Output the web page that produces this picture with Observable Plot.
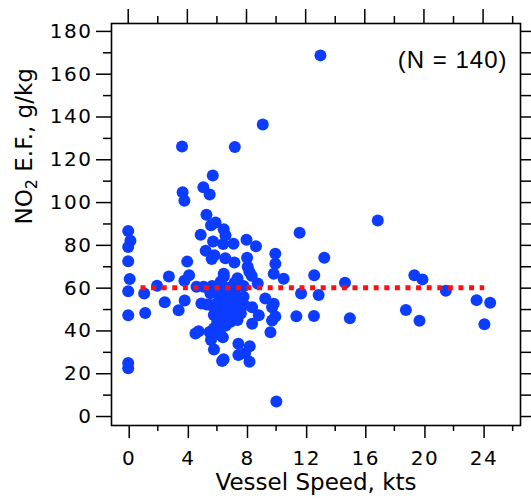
<!DOCTYPE html>
<html>
<head>
<meta charset="utf-8">
<script src="https://cdn.jsdelivr.net/npm/d3@7"></script>
<script src="https://cdn.jsdelivr.net/npm/@observablehq/plot@0.6"></script>
<style>
  html, body { margin: 0; padding: 0; background: #fff; }
  svg g[aria-label="x-axis tick label"], svg g[aria-label="y-axis tick label"] { letter-spacing: 1.5px; }
</style>
</head>
<body>
<div id="chart"></div>
<script>
// Vessel speed (kts) and NO2 emission factor (g/kg)
const speed = [
  0.00, 0.15, 0.00, 0.00, 0.10, 0.00, 0.00, 0.00, 0.00,
  1.08, 1.15, 1.95, 2.75, 2.47, 3.41, 3.64, 3.68, 3.80, 3.99, 4.12, 3.80, 3.82,
  4.55, 4.76, 4.90, 5.08, 5.51, 5.72, 5.29, 4.62, 4.95,
  5.60, 5.90, 5.74, 5.24, 5.65, 5.83, 6.46, 6.58, 7.12, 6.42, 6.57, 7.18, 6.46,
  8.00, 8.64, 8.04, 8.08, 8.19, 8.35, 8.76, 9.27, 8.38, 8.83, 8.38, 9.73, 9.73, 9.62,
  9.95, 9.95, 9.84, 10.51, 9.84, 9.95, 10.02,
  11.59, 13.26, 12.58, 11.69, 12.88, 11.37, 12.56, 13.00, 9.10, 7.21, 16.88, 14.66, 14.99,
  19.35, 19.90, 21.48, 18.78, 19.70, 23.56, 24.48, 24.09,
  5.50, 5.60, 5.80, 6.10, 6.40, 6.45, 6.35, 7.45, 8.22, 7.45, 7.90, 8.20,
  5.10, 5.67, 6.02, 6.47, 6.93, 7.39, 7.80,
  5.30, 5.56, 6.02, 6.47, 6.93, 7.39, 7.80,
  6.47, 6.93, 7.39, 7.85,
  5.79, 6.25, 6.70, 7.16, 7.62,
  6.02, 6.47, 6.93, 7.39,
  5.79, 6.25,
  6.13, 6.59, 7.16, 5.56,
  6.47, 7.39, 6.25,
  6.20, 6.80, 7.00, 6.00, 7.20, 6.60
];
const noxEF = [
  86.7, 82.2, 79.2, 72.6, 64.3, 58.6, 47.3, 25.0, 22.6,
  57.5, 48.4, 61.1, 65.4, 53.4, 49.7, 126.2, 104.8, 100.9, 72.4, 66.0, 63.5, 54.2,
  38.8, 39.9, 85.0, 107.2, 103.8, 112.6, 94.3, 60.6, 52.8,
  89.4, 90.7, 81.8, 77.5, 73.6, 75.4, 87.5, 84.7, 80.8, 80.6, 74.0, 72.0, 66.7,
  82.6, 79.6, 74.2, 70.0, 67.7, 65.8, 62.2, 55.2, 51.1, 47.3, 43.4, 51.1, 44.9, 39.4,
  76.1, 71.4, 66.7, 64.4, 52.7, 46.8, 7.0,
  85.9, 74.2, 66.0, 57.5, 56.8, 46.9, 47.0, 168.8, 136.5, 126.0, 91.6, 62.5, 45.9,
  66.0, 64.1, 58.8, 49.8, 44.8, 54.4, 53.2, 43.1,
  39.5, 35.8, 31.3, 38.5, 37.0, 26.8, 26.0, 34.0, 32.8, 28.8, 29.6, 25.6,
  60.7, 61.0, 60.7, 60.7, 60.4, 60.7, 61.0,
  52.4, 52.1, 52.9, 53.7, 54.4, 55.2, 56.0,
  49.8, 50.5, 51.3, 52.1,
  47.4, 48.2, 47.4, 47.4, 48.2,
  44.3, 45.1, 44.3, 45.1,
  41.2, 41.2,
  57.6, 56.8, 57.6, 57.6,
  65.4, 64.6, 63.0,
  55.0, 58.5, 52.0, 49.0, 62.5, 42.5
];
// mean line (dotted red)
const meanX = [0.83, 24.07];
const meanY = [60.2, 60.2];

// ticks
const xMajor = [0, 4, 8, 12, 16, 20, 24];
const xMinor = [2, 6, 10, 14, 18, 22, 26];
const yMajor = [0, 20, 40, 60, 80, 100, 120, 140, 160, 180];
const yMinor = [10, 30, 50, 70, 90, 110, 130, 150, 170];
const yRight = [0, 10, 20, 30, 40, 50, 60, 70, 80, 90, 100, 110, 120, 130, 140, 150, 160, 170, 180];

const xTitle = "Vessel Speed, kts";
const yTitle = "NO₂ E.F., g/kg";
const nLabel = "(N = 140)";

const points = speed.map((x, i) => ({x, y: noxEF[i]}));
const meanLine = meanX.map((x, i) => ({x, y: meanY[i]}));
const blank = () => "";
const font = "DejaVu Sans";

const chart = Plot.plot({
  width: 531,
  height: 501,
  marginLeft: 111,
  marginRight: 11,
  marginTop: 23,
  marginBottom: 76,
  x: {domain: [-1.13, 26.53]},
  y: {domain: [-4.2, 183.7]},
  style: {fontFamily: font, fontSize: "20px", color: "black", background: "white"},
  marks: [
    Plot.axisY({ticks: yMajor, anchor: "left", tickSize: 15, tickPadding: 4, strokeWidth: 1.5, fontSize: 20, label: null}),
    Plot.axisY({ticks: yMinor, anchor: "left", tickSize: 8, strokeWidth: 1.5, tickFormat: blank, label: null}),
    Plot.axisY({ticks: yRight, anchor: "right", tickSize: 11, strokeWidth: 1.5, tickFormat: blank, label: null}),
    Plot.axisX({ticks: xMajor, anchor: "bottom", tickSize: 13, tickPadding: 12, dx: 1, strokeWidth: 1.5, fontSize: 20, label: null}),
    Plot.axisX({ticks: xMinor, anchor: "bottom", tickSize: 6, strokeWidth: 1.5, tickFormat: blank, label: null}),
    Plot.axisX({ticks: xMajor, anchor: "top", tickSize: 15, strokeWidth: 1.5, tickFormat: blank, label: null}),
    Plot.axisX({ticks: xMinor, anchor: "top", tickSize: 8, strokeWidth: 1.5, tickFormat: blank, label: null}),
    Plot.frame({stroke: "black", strokeWidth: 1.6}),
    Plot.dot(points, {x: "x", y: "y", r: 6, fill: "#0b3cff", stroke: "none"}),
    Plot.line(meanLine, {x: "x", y: "y", stroke: "#ff1010", strokeWidth: 5, strokeDasharray: "5,5.6", strokeLinecap: "butt"}),
    Plot.text([nLabel], {frameAnchor: "top-right", dx: -13, dy: 27, fontSize: 24, fontFamily: "Liberation Sans", textAnchor: "end"}),
    Plot.text([xTitle], {frameAnchor: "bottom", dy: 64, fontSize: 23, fontFamily: font}),
    Plot.text([yTitle], {frameAnchor: "left", dx: -87, rotate: -90, fontSize: 23, fontFamily: font})
  ]
});

// letter spacing for the N label, subscript 2 in the y title
chart.querySelectorAll("text").forEach(t => {
  if (t.textContent === nLabel) t.style.letterSpacing = "1px";
  if (t.textContent === yTitle) {
    const parent = t.querySelector("tspan") || t;
    while (parent.firstChild) parent.removeChild(parent.firstChild);
    const ns = "http://www.w3.org/2000/svg";
    const a = document.createElementNS(ns, "tspan"); a.textContent = "NO";
    const b = document.createElementNS(ns, "tspan"); b.textContent = "2";
    b.setAttribute("font-size", "16"); b.setAttribute("dy", "5");
    const c = document.createElementNS(ns, "tspan"); c.textContent = " E.F., g/kg";
    c.setAttribute("dy", "-5");
    parent.appendChild(a); parent.appendChild(b); parent.appendChild(c);
  }
});

document.getElementById("chart").appendChild(chart);
</script>
</body>
</html>
